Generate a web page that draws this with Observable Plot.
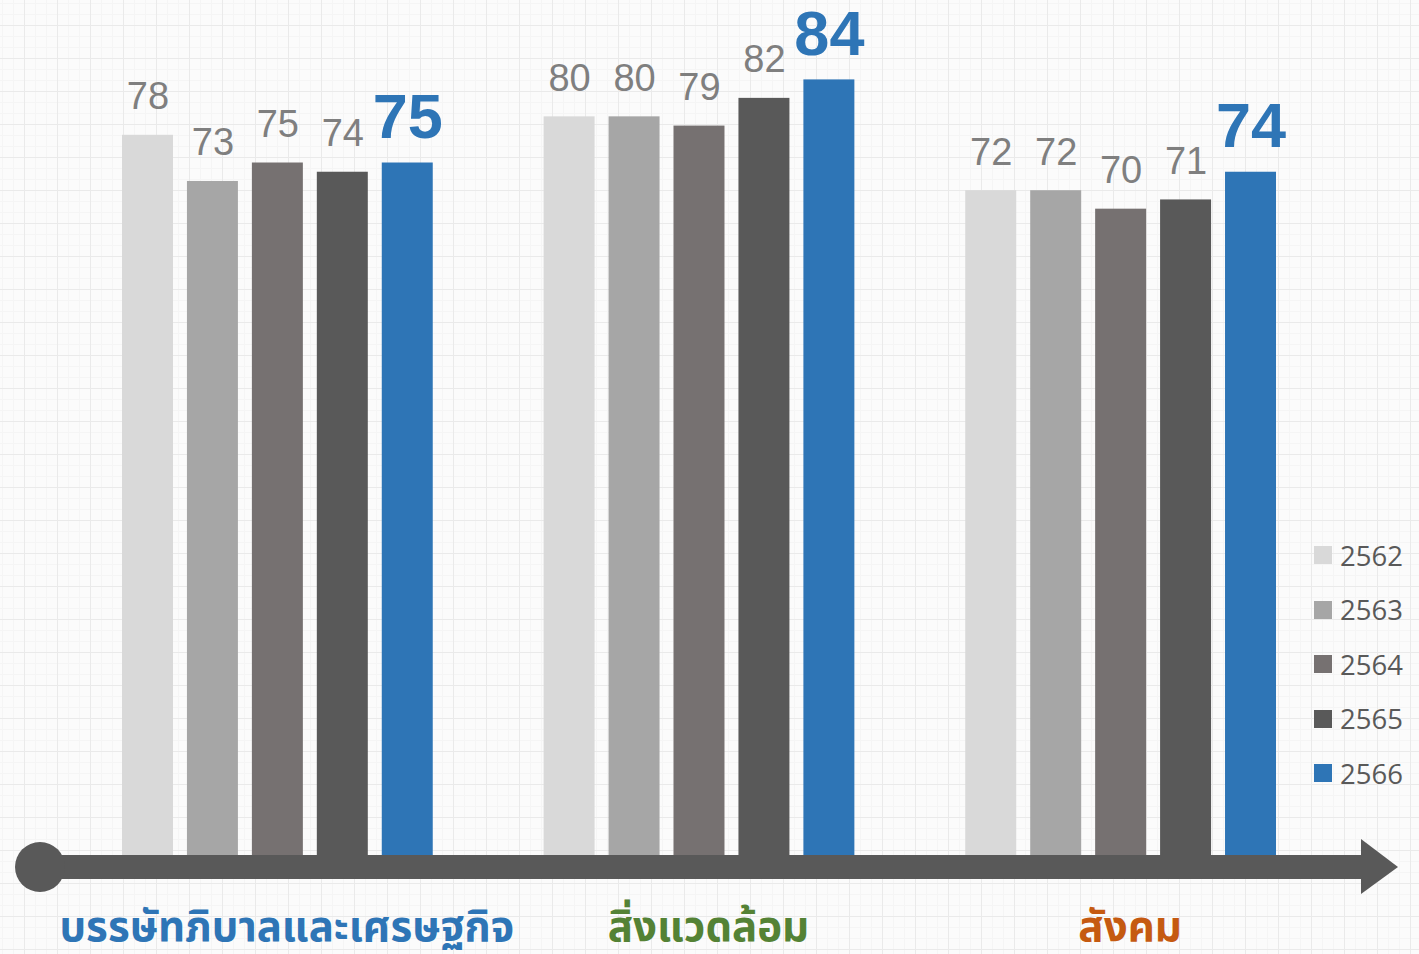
<!DOCTYPE html>
<html>
<head>
<meta charset="utf-8">
<script src="https://cdn.jsdelivr.net/npm/d3@7"></script>
<script src="https://cdn.jsdelivr.net/npm/@observablehq/plot@0.6"></script>
<style>
  html, body { margin: 0; padding: 0; }
  body {
    width: 1419px; height: 954px; overflow: hidden; position: relative;
    background-color: #fbfbfb;
    background-image:
      linear-gradient(to right, #eaeaea 1px, transparent 1px),
      linear-gradient(to bottom, #eaeaea 1px, transparent 1px),
      linear-gradient(to right, #f5f5f5 1px, transparent 1px),
      linear-gradient(to bottom, #f5f5f5 1px, transparent 1px);
    background-size: 33px 33px, 33px 33px, 11px 11px, 11px 11px;
    background-position: 24px 25px, 24px 25px, 24px 25px, 24px 25px;
  }
  #chart { position: absolute; left: 0; top: 0; }
  #legend { position: absolute; left: 1314px; top: 528px; font-family: "Open Sans", "Noto Sans", sans-serif; font-size: 27.5px; color: #595959; }
  .item { display: flex; align-items: center; height: 54.5px; }
  .sw { width: 18px; height: 18px; margin-right: 8px; }
</style>
</head>
<body>
<div id="chart"></div>
<div id="legend"></div>
<script>
const groups = ["บรรษัทภิบาลและเศรษฐกิจ", "สิ่งแวดล้อม", "สังคม"];
const years = ["2562", "2563", "2564", "2565", "2566"];
const v2562 = [78, 80, 72];
const v2563 = [73, 80, 72];
const v2564 = [75, 79, 70];
const v2565 = [74, 82, 71];
const v2566 = [75, 84, 74];
const yearColors = ["#D9D9D9", "#A6A6A6", "#767171", "#595959", "#2E75B6"];
const groupColors = ["#2E75B6", "#548235", "#C55A11"];

const series = [v2562, v2563, v2564, v2565, v2566];
const data = groups.flatMap((g, i) => years.map((yr, j) => ({group: g, year: yr, value: series[j][i]})));
const highlight = years[years.length - 1];

const plot = Plot.plot({
  width: 1419,
  height: 954,
  marginLeft: 122,
  marginRight: 143,
  marginTop: 0,
  marginBottom: 99,
  style: {background: "transparent", fontFamily: "'Liberation Sans', Arial, sans-serif", overflow: "visible"},
  fx: {domain: groups, paddingInner: 0.263, paddingOuter: 0, round: false, axis: null, label: null},
  x: {domain: years, paddingInner: 0.215, paddingOuter: 0, round: false, axis: null},
  y: {domain: [0, 92.6], axis: null},
  color: {domain: years, range: yearColors},
  marks: [
    Plot.barY(data, {fx: "group", x: "year", y: "value", fill: "year"}),
    Plot.text(data.filter(d => d.year !== highlight), {
      fx: "group", x: "year", y: "value", text: d => String(d.value),
      fill: "#7F7F7F", fontSize: 38, lineAnchor: "bottom", dy: -26
    }),
    Plot.text(data.filter(d => d.year === highlight), {
      fx: "group", x: "year", y: "value", text: d => String(d.value),
      fill: "#2E75B6", fontSize: 63, fontWeight: "bold", lineAnchor: "bottom", dy: -25
    }),
    ...groups.map((g, i) => Plot.text([g], {
      fx: d => d, text: d => d, frameAnchor: "bottom", lineAnchor: "bottom",
      dy: 85, dx: 9, fontSize: 42, fontWeight: "bold", fill: groupColors[i],
      fontFamily: "'Noto Sans Thai', 'Noto Sans Thai Looped', Loma, 'Noto Sans', sans-serif"
    }))
  ]
});
document.getElementById("chart").appendChild(plot);

// axis arrow decoration along the baseline
const svg = d3.select(plot);
const y0 = plot.scale("y").apply(0);
const g = svg.append("g").attr("fill", "#595959");
g.append("rect").attr("x", 40).attr("y", y0).attr("width", 1362 - 40).attr("height", 24);
g.append("circle").attr("cx", 40).attr("cy", y0 + 12).attr("r", 25);
g.append("path").attr("d", `M1361,${y0 - 16}L1398,${y0 + 12}L1361,${y0 + 39}Z`);

// legend
const legend = d3.select("#legend");
years.forEach((yr, j) => {
  const it = legend.append("div").attr("class", "item");
  it.append("div").attr("class", "sw").style("background", yearColors[j]);
  it.append("span").text(yr);
});
</script>
</body>
</html>
